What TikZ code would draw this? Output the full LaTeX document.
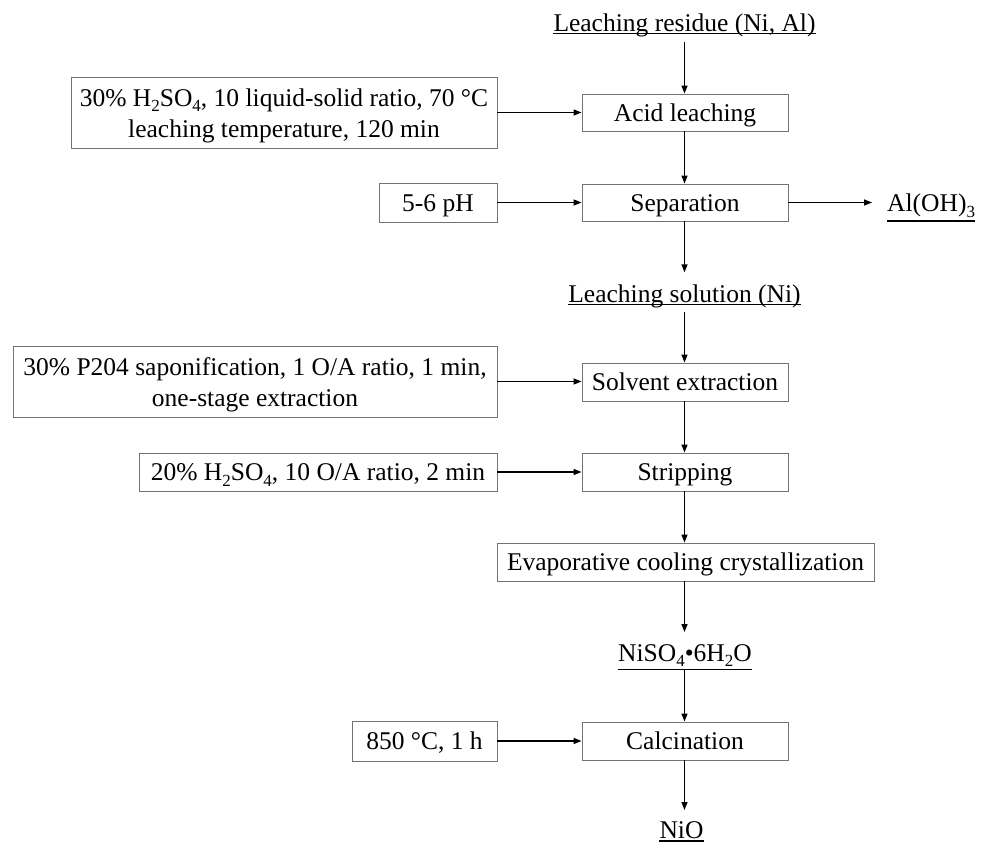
\documentclass[tikz,border=0pt]{standalone}
\usepackage{fontspec}
\setmainfont{Liberation Serif}
\usetikzlibrary{arrows.meta}
\newcommand{\sbs}[1]{\raisebox{-5.5pt}{\fontsize{17}{17}\selectfont #1}}
\newcommand{\twolines}[2]{\raisebox{0pt}[49pt][0pt]{\begin{tabular}[b]{@{}c@{}}#1\\#2\end{tabular}}}
\begin{document}
\begin{tikzpicture}[x=1pt,y=-1pt,
  every node/.style={font=\fontsize{25.5}{30.6}\selectfont, text=black},
  box/.style={draw=black!55, line width=0.9pt, rectangle, inner sep=0pt, align=center,
    text height=23pt, text depth=5.6pt},
  box2/.style={draw=black!55, line width=0.9pt, rectangle, inner sep=0pt},
  lbl/.style={inner sep=0pt, anchor=base},
  arr/.style={line width=1.4pt, -{Triangle[length=8pt,width=6pt]}},
  uline/.style={line width=1.3pt}]
\useasboundingbox (0,0) rectangle (984,843);
\fill[white] (0,0) rectangle (984,843);

% main column
\node[lbl] (res) at (684.5,31.7) {Leaching residue (Ni, Al)};
\node[box, minimum width=206pt, minimum height=37pt] (acid) at (685,112.5) {Acid leaching};
\node[box, minimum width=206pt, minimum height=37pt] (sep) at (685,202.5) {Separation};
\node[lbl] (sol) at (684.5,302.3) {Leaching solution (Ni)};
\node[box, minimum width=206pt, minimum height=38pt] (sx) at (685,382) {Solvent extraction};
\node[box, minimum width=206pt, minimum height=38pt] (strip) at (685,472) {Stripping};
\node[box, minimum width=377pt, minimum height=38pt] (evap) at (685.5,562) {Evaporative cooling crystallization};
\node[lbl] (ni) at (685,661) {NiSO\sbs{4}•6H\sbs{2}O};
\node[box, minimum width=206pt, minimum height=38pt] (calc) at (685,741) {Calcination};
\node[lbl] (nio) at (681.5,838.5) {NiO};

% side inputs
\node[box2, minimum width=426pt, minimum height=71pt] (ca) at (284,112.5)
  {\twolines{30\% H\sbs{2}SO\sbs{4}, 10 liquid-solid ratio, 70 °C}{leaching temperature, 120 min}};
\node[box, minimum width=118pt, minimum height=39pt] (ph) at (438,202.5) {5-6 pH};
\node[box2, minimum width=484pt, minimum height=71pt] (cs) at (255,381.5)
  {\twolines{30\% P204 saponification, 1 O/A ratio, 1 min,}{one-stage extraction}};
\node[box, minimum width=358pt, minimum height=38pt] (cst) at (318,472) {20\% H\sbs{2}SO\sbs{4}, 10 O/A ratio, 2 min};
\node[box, minimum width=145pt, minimum height=40pt] (cc) at (424.5,741) {850 °C, 1 h};

% side output
\node[lbl, anchor=base west] (alo) at (887,211.7) {Al(OH)\sbs{3}};

% underlines
\draw[uline] ([yshift=-1.8pt]res.base west) -- ([yshift=-1.8pt]res.base east);
\draw[uline] ([yshift=-2pt]sol.base west) -- ([yshift=-2pt]sol.base east);
\draw[uline] ([yshift=-9.3pt]alo.base west) -- ([yshift=-9.3pt]alo.base east);
\draw[uline] ([yshift=-8.3pt]ni.base west) -- ([yshift=-8.3pt]ni.base east);
\draw[uline] ([yshift=-2.5pt]nio.base west) -- ([yshift=-2.5pt]nio.base east);

% vertical connectors
\draw[arr] ([yshift=-10pt]res.base) -- (res.base |- acid.north);
\draw[arr] (acid.south -| res.base) -- (res.base |- sep.north);
\draw[arr] (sep.south -| res.base) -- ([yshift=30pt]sol.base);
\draw[arr] ([yshift=-9.5pt]sol.base) -- (sol.base |- sx.north);
\draw[arr] (sx.south -| sol.base) -- (sol.base |- strip.north);
\draw[arr] (strip.south -| sol.base) -- (sol.base |- evap.north);
\draw[arr] (evap.south -| sol.base) -- ([yshift=29pt]sol.base |- ni.base);
\draw[arr] ([yshift=-8.3pt]sol.base |- ni.base) -- (sol.base |- calc.north);
\draw[arr] (calc.south -| sol.base) -- ([yshift=28.5pt]sol.base |- nio.base);

% horizontal connectors
\draw[arr] (ca.east) -- (ca.east -| acid.west);
\draw[arr] (ph.east) -- (ph.east -| sep.west);
\draw[arr] (sep.east) -- ([xshift=-15pt]sep.east -| alo.west);
\draw[arr] (cs.east) -- (cs.east -| sx.west);
\draw[arr] (cst.east) -- (cst.east -| strip.west);
\draw[arr] (cc.east) -- (cc.east -| calc.west);
\end{tikzpicture}
\end{document}
